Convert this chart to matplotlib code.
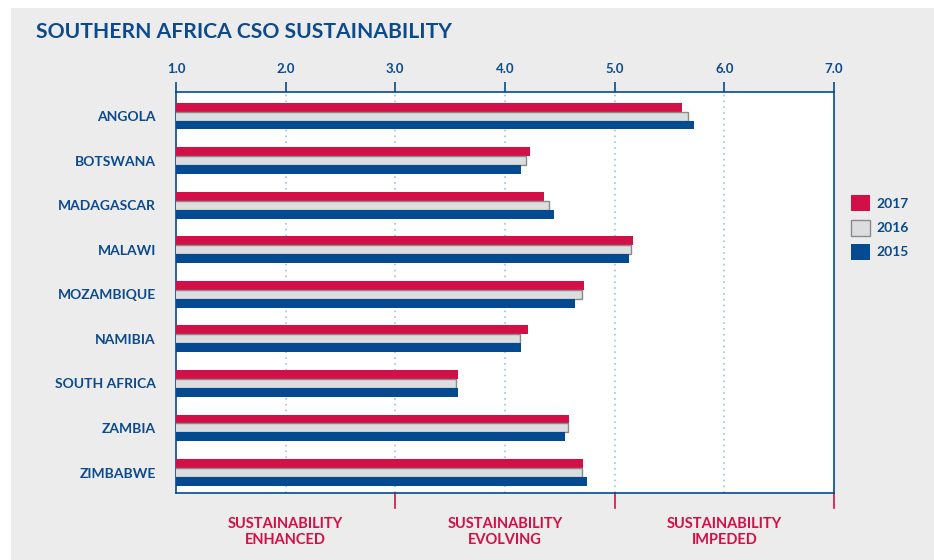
import numpy as np
import matplotlib.pyplot as plt
from matplotlib.patches import Rectangle, Patch

plt.rcParams['font.family'] = ['Lato', 'DejaVu Sans']

# data
countries = ['ANGOLA', 'BOTSWANA', 'MADAGASCAR', 'MALAWI', 'MOZAMBIQUE',
             'NAMIBIA', 'SOUTH AFRICA', 'ZAMBIA', 'ZIMBABWE']
vals_2017 = [5.61, 4.23, 4.36, 5.17, 4.72, 4.21, 3.57, 4.58, 4.71]
vals_2016 = [5.67, 4.19, 4.40, 5.15, 4.70, 4.14, 3.55, 4.57, 4.70]
vals_2015 = [5.72, 4.15, 4.45, 5.13, 4.64, 4.15, 3.57, 4.55, 4.75]
x_ticks = [1.0, 2.0, 3.0, 4.0, 5.0, 6.0, 7.0]
zones = ['SUSTAINABILITY\nENHANCED', 'SUSTAINABILITY\nEVOLVING', 'SUSTAINABILITY\nIMPEDED']
zone_bounds = [1.0, 3.0, 5.0, 7.0]

BLUE = '#034a91'
RED = '#d20f46'
GREY = '#dcddde'
TXT = '#0b4a8c'

fig = plt.figure(figsize=(9.34, 5.6), dpi=100)
W, H = 934, 560
# grey panel behind everything
bg = Rectangle((11 / W, 0), 1, (H - 8) / H, transform=fig.transFigure,
               facecolor='#ececec', edgecolor='none', zorder=-10)
fig.add_artist(bg)

ax = fig.add_axes([176 / W, (H - 493) / H, (834 - 176) / W, (493 - 92) / H])
ax.set_facecolor('white')

y = np.arange(len(countries))
h = 0.2
ax.barh(y - h, vals_2017, height=h, color=RED, edgecolor='none', zorder=3)
ax.barh(y, vals_2016, height=h, color=GREY, edgecolor='#8a8a8a', linewidth=1.0, zorder=3)
ax.barh(y + h, vals_2015, height=h, color=BLUE, edgecolor='none', zorder=3)

ax.set_xlim(1, 7)
ax.set_ylim(8.46, -0.54)

ax.xaxis.tick_top()
ax.set_xticks(x_ticks)
ax.set_xticklabels(['%.1f' % t for t in x_ticks], fontsize=9.5, fontweight='bold', color=TXT)
ax.tick_params(axis='x', direction='out', length=7.5, width=1.2, color=BLUE, pad=5)
for t in x_ticks[1:-1]:
    ax.axvline(t, color='#9fc0e6', linestyle=(0, (1, 2.5)), linewidth=1.2, zorder=1)

ax.set_yticks(y)
ax.set_yticklabels(countries, fontsize=10, fontweight='bold', color=TXT)
ax.tick_params(axis='y', length=0, pad=14.5)

for s in ax.spines.values():
    s.set_color(BLUE)
    s.set_linewidth(1.2)

# bottom zone markers and labels
for b in zone_bounds[1:]:
    ax.plot([b, b], [0, -0.037], transform=ax.get_xaxis_transform(), color=RED,
            linewidth=1.2, clip_on=False)
for i, z in enumerate(zones):
    mid = (zone_bounds[i] + zone_bounds[i + 1]) / 2
    ax.text(mid, -0.06, z, transform=ax.get_xaxis_transform(), ha='center', va='top',
            fontsize=10.5, fontweight='bold', color=RED, linespacing=1.2)

fig.text(36 / W, 1 - 32 / H, 'SOUTHERN AFRICA CSO SUSTAINABILITY', fontsize=15.2,
         fontweight='bold', color=TXT, va='center', ha='left')

handles = [Patch(facecolor=RED, edgecolor='none'),
           Patch(facecolor=GREY, edgecolor='#8a8a8a'),
           Patch(facecolor=BLUE, edgecolor='none')]
leg = fig.legend(handles, ['2017', '2016', '2015'], loc='upper left',
                 bbox_to_anchor=(838 / W, 1 - 183 / H), frameon=False,
                 handlelength=1.37, handleheight=1.37, handletextpad=0.5,
                 labelspacing=0.61, prop={'weight': 'bold', 'size': 10})
for t in leg.get_texts():
    t.set_color(TXT)

fig.savefig('out.png', dpi=100)
